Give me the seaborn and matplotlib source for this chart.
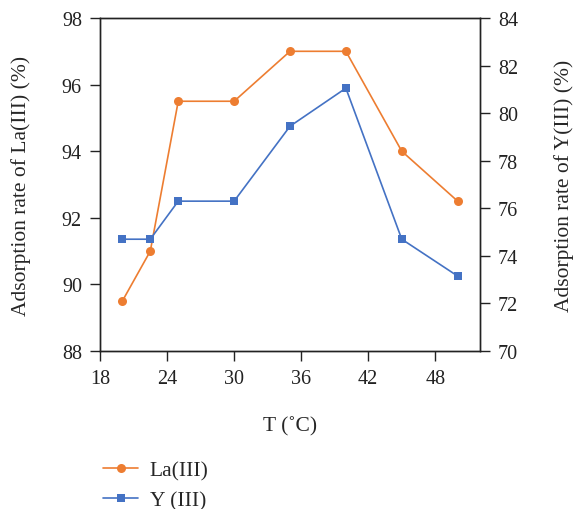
import matplotlib
matplotlib.use("Agg")
import matplotlib.pyplot as plt
import seaborn as sns
import pandas as pd

# Temperature (°C) and adsorption rates
temperature = [20, 22.5, 25, 30, 35, 40, 45, 50]
la_rate = [89.5, 91.0, 95.5, 95.5, 97.0, 97.0, 94.0, 92.5]
y_rate = [74.7, 74.7, 76.3, 76.3, 79.45, 81.05, 74.7, 73.15]

x_ticks = [18, 24, 30, 36, 42, 48]
left_ticks = [88, 90, 92, 94, 96, 98]
right_ticks = [70, 72, 74, 76, 78, 80, 82, 84]

df = pd.DataFrame({"T": temperature, "La": la_rate, "Y": y_rate})

sns.set_style("ticks")
plt.rcParams["font.family"] = ["Liberation Serif", "DejaVu Serif"]
plt.rcParams["font.size"] = 15

orange = "#ED7D31"
blue = "#4472C4"

fig = plt.figure(figsize=(5.74, 5.10), dpi=100)
ax = fig.add_axes([100 / 574, 1 - 352 / 510, 380 / 574, 333 / 510])
ax2 = ax.twinx()

sns.lineplot(data=df, x="T", y="La", ax=ax, color=orange, marker="o",
             markersize=6.5, markeredgewidth=0, linewidth=1.2, label="La(III)",
             legend=False)
sns.lineplot(data=df, x="T", y="Y", ax=ax2, color=blue, marker="s",
             markersize=6, markeredgewidth=0, linewidth=1.2, label="Y (III)",
             legend=False)

ax.set_xlim(18, 52)
ax.set_ylim(88, 98)
ax2.set_ylim(70, 84)
ax.set_xticks(x_ticks)
ax.set_yticks(left_ticks)
ax2.set_yticks(right_ticks)

for a in (ax, ax2):
    for s in a.spines.values():
        s.set_color("#222222")
        s.set_linewidth(1.0)
    a.tick_params(direction="out", length=7, width=1.0, colors="#222222",
                  labelsize=14.5, pad=6)

ax.set_xlabel("T (˚C)", fontsize=15.5, labelpad=20)
ax.set_ylabel("Adsorption rate of La(III) (%)", fontsize=15.5, labelpad=22)
ax2.set_ylabel("Adsorption rate of Y(III) (%)", fontsize=15.5, labelpad=26)

handles = ax.get_lines()[:1] + ax2.get_lines()[:1]
fig.legend(handles, ["La(III)", "Y (III)"], loc="upper left",
           bbox_to_anchor=(84 / 574, 1 - 442 / 510), frameon=False,
           fontsize=15.5, handlelength=1.6, labelspacing=0.45,
           handletextpad=0.55)

fig.savefig("out.png", dpi=100)
